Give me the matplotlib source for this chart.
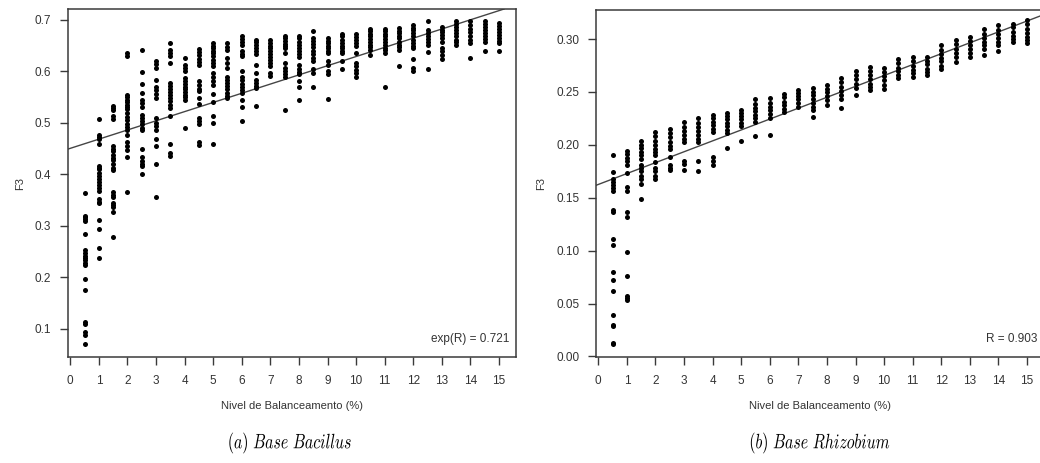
#!/usr/bin/env python3
"""F3 vs balancing level (%) for the Bacillus and Rhizobium bases, R-style scatter + fit line."""
import numpy as np
import matplotlib
matplotlib.use("Agg")
import matplotlib.pyplot as plt
from matplotlib.textpath import TextPath
from matplotlib.patches import PathPatch
from matplotlib.transforms import Affine2D

plt.rcParams["font.family"] = ["Liberation Sans", "DejaVu Sans"]
plt.rcParams["mathtext.fontset"] = "cm"

levels = [0.5, 1.0, 1.5, 2.0, 2.5, 3.0, 3.5, 4.0, 4.5, 5.0, 5.5, 6.0, 6.5, 7.0, 7.5,
          8.0, 8.5, 9.0, 9.5, 10.0, 10.5, 11.0, 11.5, 12.0, 12.5, 13.0, 13.5, 14.0, 14.5, 15.0]
xticks = list(range(16))

# (a) Base Bacillus -- F3 values per balancing level
bacillus_f3 = [
    [0.364, 0.318, 0.316, 0.313, 0.310, 0.283, 0.252, 0.247, 0.242, 0.238, 0.233, 0.228,
     0.224, 0.196, 0.175, 0.113, 0.108, 0.093, 0.087, 0.070],
    [0.508, 0.476, 0.472, 0.468, 0.458, 0.417, 0.413, 0.410, 0.403, 0.396, 0.391, 0.385,
     0.380, 0.373, 0.367, 0.351, 0.347, 0.345, 0.311, 0.293, 0.257, 0.238],
    [0.532, 0.528, 0.525, 0.513, 0.508, 0.455, 0.450, 0.446, 0.438, 0.432, 0.427, 0.420,
     0.413, 0.408, 0.366, 0.360, 0.355, 0.345, 0.340, 0.336, 0.327, 0.278],
    [0.636, 0.630, 0.555, 0.550, 0.545, 0.540, 0.535, 0.530, 0.526, 0.520, 0.512, 0.505,
     0.498, 0.492, 0.487, 0.477, 0.462, 0.455, 0.448, 0.433, 0.365],
    [0.642, 0.598, 0.576, 0.558, 0.545, 0.538, 0.530, 0.516, 0.510, 0.503, 0.497, 0.490,
     0.487, 0.450, 0.433, 0.425, 0.420, 0.416, 0.401],
    [0.620, 0.614, 0.607, 0.584, 0.569, 0.563, 0.556, 0.549, 0.510, 0.500, 0.494, 0.487,
     0.469, 0.455, 0.420, 0.356],
    [0.655, 0.642, 0.636, 0.629, 0.617, 0.578, 0.572, 0.566, 0.560, 0.555, 0.549, 0.542,
     0.535, 0.529, 0.514, 0.458, 0.442, 0.435],
    [0.626, 0.613, 0.606, 0.600, 0.587, 0.582, 0.576, 0.570, 0.565, 0.560, 0.555, 0.550,
     0.545, 0.490],
    [0.644, 0.638, 0.632, 0.625, 0.619, 0.613, 0.581, 0.574, 0.566, 0.561, 0.549, 0.536,
     0.510, 0.503, 0.497, 0.462, 0.457],
    [0.655, 0.650, 0.645, 0.640, 0.635, 0.629, 0.623, 0.616, 0.610, 0.597, 0.590, 0.582,
     0.574, 0.557, 0.540, 0.513, 0.500, 0.458],
    [0.655, 0.648, 0.642, 0.626, 0.617, 0.607, 0.590, 0.584, 0.578, 0.571, 0.565, 0.558,
     0.552, 0.549],
    [0.668, 0.663, 0.657, 0.652, 0.639, 0.633, 0.629, 0.600, 0.590, 0.583, 0.576, 0.569,
     0.563, 0.558, 0.545, 0.531, 0.504],
    [0.662, 0.657, 0.651, 0.645, 0.640, 0.633, 0.613, 0.597, 0.584, 0.578, 0.572, 0.568, 0.533],
    [0.662, 0.656, 0.650, 0.645, 0.640, 0.634, 0.628, 0.622, 0.616, 0.610, 0.597, 0.592],
    [0.669, 0.664, 0.659, 0.654, 0.649, 0.646, 0.636, 0.617, 0.607, 0.600, 0.594, 0.590, 0.524],
    [0.669, 0.664, 0.658, 0.652, 0.646, 0.640, 0.634, 0.628, 0.613, 0.605, 0.599, 0.594,
     0.581, 0.570, 0.544],
    [0.678, 0.665, 0.659, 0.653, 0.647, 0.640, 0.634, 0.627, 0.620, 0.604, 0.597, 0.570],
    [0.665, 0.660, 0.655, 0.650, 0.645, 0.640, 0.636, 0.620, 0.613, 0.600, 0.594, 0.547],
    [0.673, 0.668, 0.662, 0.656, 0.650, 0.645, 0.640, 0.636, 0.620, 0.604],
    [0.673, 0.667, 0.661, 0.655, 0.649, 0.636, 0.617, 0.610, 0.603, 0.597, 0.590],
    [0.683, 0.678, 0.673, 0.668, 0.663, 0.658, 0.652, 0.647, 0.642, 0.631],
    [0.683, 0.678, 0.673, 0.668, 0.663, 0.657, 0.652, 0.646, 0.641, 0.636, 0.570],
    [0.684, 0.679, 0.674, 0.669, 0.664, 0.658, 0.652, 0.647, 0.642, 0.611],
    [0.691, 0.685, 0.680, 0.674, 0.668, 0.662, 0.656, 0.650, 0.645, 0.624, 0.607, 0.601],
    [0.697, 0.681, 0.675, 0.669, 0.663, 0.657, 0.651, 0.637, 0.605],
    [0.687, 0.681, 0.676, 0.670, 0.664, 0.658, 0.646, 0.639, 0.632, 0.625],
    [0.697, 0.692, 0.686, 0.680, 0.674, 0.668, 0.662, 0.657, 0.652],
    [0.697, 0.690, 0.683, 0.676, 0.669, 0.662, 0.656, 0.627],
    [0.697, 0.692, 0.686, 0.680, 0.674, 0.668, 0.663, 0.658, 0.640],
    [0.695, 0.689, 0.683, 0.677, 0.671, 0.665, 0.660, 0.655, 0.639],
]

# (b) Base Rhizobium
rhizobium_f3 = [
    [0.190, 0.174, 0.168, 0.165, 0.162, 0.159, 0.156, 0.138, 0.137, 0.111, 0.105, 0.080,
     0.072, 0.062, 0.039, 0.030, 0.029, 0.013, 0.012],
    [0.194, 0.191, 0.188, 0.185, 0.181, 0.173, 0.160, 0.156, 0.137, 0.132, 0.099, 0.076,
     0.057, 0.055, 0.053],
    [0.204, 0.200, 0.197, 0.193, 0.190, 0.187, 0.181, 0.178, 0.175, 0.171, 0.168, 0.163, 0.149],
    [0.212, 0.208, 0.204, 0.200, 0.196, 0.193, 0.190, 0.184, 0.178, 0.175, 0.171, 0.168],
    [0.215, 0.211, 0.207, 0.203, 0.199, 0.196, 0.189, 0.181, 0.178, 0.176],
    [0.222, 0.217, 0.213, 0.209, 0.206, 0.203, 0.185, 0.182, 0.176],
    [0.225, 0.221, 0.217, 0.213, 0.209, 0.206, 0.203, 0.185, 0.175],
    [0.228, 0.225, 0.222, 0.219, 0.215, 0.212, 0.189, 0.185, 0.181],
    [0.230, 0.227, 0.224, 0.221, 0.218, 0.214, 0.211, 0.197],
    [0.233, 0.230, 0.227, 0.224, 0.221, 0.218, 0.204],
    [0.243, 0.239, 0.235, 0.232, 0.228, 0.225, 0.222, 0.208],
    [0.244, 0.240, 0.236, 0.233, 0.229, 0.225, 0.209],
    [0.248, 0.245, 0.241, 0.238, 0.234, 0.231],
    [0.252, 0.249, 0.246, 0.243, 0.240, 0.236],
    [0.254, 0.250, 0.247, 0.243, 0.240, 0.236, 0.233, 0.226],
    [0.257, 0.253, 0.250, 0.246, 0.242, 0.238],
    [0.263, 0.259, 0.255, 0.251, 0.247, 0.243, 0.235],
    [0.270, 0.266, 0.262, 0.258, 0.254, 0.247],
    [0.274, 0.270, 0.266, 0.262, 0.258, 0.255, 0.252],
    [0.273, 0.269, 0.265, 0.261, 0.257, 0.253],
    [0.281, 0.277, 0.273, 0.270, 0.266, 0.263],
    [0.283, 0.279, 0.275, 0.271, 0.268, 0.264],
    [0.283, 0.279, 0.276, 0.272, 0.269, 0.266],
    [0.294, 0.290, 0.286, 0.282, 0.279, 0.275, 0.272],
    [0.299, 0.295, 0.291, 0.287, 0.283, 0.278],
    [0.302, 0.298, 0.294, 0.291, 0.287, 0.283],
    [0.310, 0.305, 0.301, 0.297, 0.294, 0.291, 0.285],
    [0.313, 0.309, 0.305, 0.301, 0.297, 0.294, 0.289],
    [0.314, 0.311, 0.307, 0.303, 0.300, 0.297],
    [0.318, 0.314, 0.310, 0.306, 0.302, 0.299, 0.296],
]

# fitted lines (intercept, slope)
bacillus_fit = (0.4504, 0.01785)
rhizobium_fit = (0.1626, 0.0103)

bacillus_yticks = [0.1, 0.2, 0.3, 0.4, 0.5, 0.6, 0.7]
rhizobium_yticks = [0.00, 0.05, 0.10, 0.15, 0.20, 0.25, 0.30]

FRAME = "#3a3a3a"
TXT = "#333333"


def panel(ax, ys, fit, ylim, yticks, yfmt, note):
    for lv, col in zip(levels, ys):
        ax.scatter(np.full(len(col), lv), col, s=13, color="black",
                   linewidths=0, zorder=3)
    ax.axline((0, fit[0]), slope=fit[1], color="#454545", lw=1.0, zorder=2)
    ax.set_xlim(-0.08, 15.58)
    ax.set_ylim(*ylim)
    ax.set_xticks(xticks)
    ax.set_xticklabels([str(t) for t in xticks])
    ax.set_yticks(yticks)
    ax.set_yticklabels([yfmt.format(t) for t in yticks])
    ax.tick_params(direction="out", length=6, width=1.0, color=FRAME,
                   labelsize=8.5, labelcolor=TXT)
    ax.tick_params(axis="x", pad=7)
    ax.tick_params(axis="y", pad=6)
    for sp in ax.spines.values():
        sp.set_color(FRAME)
        sp.set_linewidth(1.1)
    ax.set_xlabel("Nivel de Balanceamento (%)", fontsize=8, color=TXT, labelpad=10)
    ax.set_ylabel("F3", fontsize=8, color=TXT, labelpad=7)
    ax.text(0.985, 0.035, note, transform=ax.transAxes, ha="right", va="bottom",
            fontsize=8.5, color=TXT)


def caption(fig, s, cx, cy, size=15, sx=0.76):
    """Condensed italic caption centred at pixel (cx, cy from top)."""
    tp = TextPath((0, 0), s, size=size)
    bb = tp.get_extents()
    k = fig.dpi / 72.0
    tr = (Affine2D().translate(-(bb.x0 + bb.x1) / 2, -(bb.y0 + bb.y1) / 2)
          .scale(sx * k, k).translate(cx, fig.bbox.height - cy))
    fig.add_artist(PathPatch(tp, transform=tr, facecolor="black", edgecolor="none"))


fig = plt.figure(figsize=(10.4, 4.63), dpi=100)
ax1 = fig.add_axes([68 / 1040, 106 / 463, 447.6 / 1040, 348 / 463])
ax2 = fig.add_axes([596 / 1040, 106 / 463, 447.6 / 1040, 347 / 463])

panel(ax1, bacillus_f3, bacillus_fit, (0.0447, 0.7213), bacillus_yticks, "{:.1f}",
      "exp(R) = 0.721")
panel(ax2, rhizobium_f3, rhizobium_fit, (-0.0005, 0.3275), rhizobium_yticks, "{:.2f}",
      "R = 0.903")

caption(fig, r"$\mathit{(a)\ Base\ Bacillus}$", 290, 443)
caption(fig, r"$\mathit{(b)\ Base\ Rhizobium}$", 820, 443)

fig.savefig("out.png", dpi=100)
